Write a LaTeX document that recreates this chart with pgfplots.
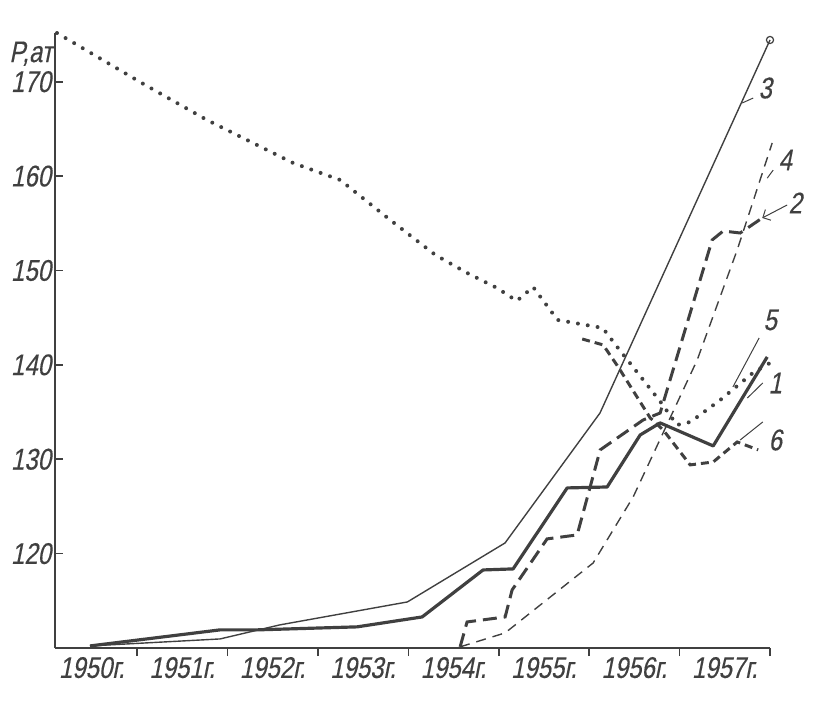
\documentclass[border=0pt]{standalone}
\usepackage{fontspec}
\setmainfont{Liberation Sans}
\newfontfamily\gost[FakeStretch=0.8,FakeSlant=0.2,FakeBold=0.3]{Liberation Sans}
\usepackage{pgfplots}
\pgfplotsset{compat=1.18}
\usetikzlibrary{arrows.meta}
\colorlet{ink}{black!75}
\begin{document}
\begin{tikzpicture}[x=1bp,y=1bp]
\begin{axis}[
  at={(0,0)}, anchor=south west,
  scale only axis, width=357.5bp, height=307.5bp,
  xmin=0.093, xmax=8, ymin=110, ymax=175.16,
  axis x line*=bottom, axis y line*=left,
  axis line style={ink, line width=0.9pt},
  clip=false,
  xtick={1,2,3,4,5,6,7,8},
  xticklabels={1950г.,1951г.,1952г.,1953г.,1954г.,1955г.,1956г.,1957г.},
  xticklabel style={xshift=-22.6bp, yshift=3bp},
  x tick style={ink, line width=0.8pt},
  xtick align=outside, major tick length=4bp,
  ytick={120,130,140,150,160,170},
  ytick align=inside,
  y tick style={ink, line width=0.8pt},
  yticklabel style={xshift=1.5bp},
  /pgf/number format/assume math mode=true,
  ticklabel style={font=\gost\fontsize{15}{15}\selectfont, text=ink},
]
% 5 dotted
\addplot[ink, line width=2pt, line cap=round, dash pattern=on 0pt off 5pt] coordinates {
(0.115,175.16)(1.033,169.97)(1.774,165.94)(2.726,161.39)(3.246,159.59)(3.80,155.35)(4.30,151.64)(4.65,149.74)(4.98,148.15)(5.20,146.77)(5.38,148.25)(5.65,144.76)(6.15,143.91)(6.31,141.90)(6.79,136.07)(6.97,133.63)(7.12,133.95)(7.45,136.28)(7.81,139.14)(8.00,140.2)};
% 3 thin solid
\addplot[ink, line width=0.7pt, mark=o, mark size=1.8pt, mark indices={7}, mark options={solid, line width=0.6pt}] coordinates {
(0.48,110.22)(1.918,110.96)(2.58,112.45)(3.99,114.88)(5.07,121.13)(6.12,134.90)(8.00,174.42)};
% 1 thick solid
\addplot[ink, line width=1.6pt, line join=round] coordinates {
(0.48,110.22)(1.918,111.92)(2.327,111.92)(3.434,112.24)(4.153,113.29)(4.827,118.27)(5.159,118.38)(5.757,126.96)(6.199,127.06)(6.564,132.57)(6.785,133.85)(7.372,131.41)(7.969,140.84)};
% 2 thick dashed
\addplot[ink, line width=1.5pt, dash pattern=on 7pt off 3.5pt] coordinates {
(4.573,110.12)(4.650,112.76)(5.071,113.29)(5.148,116.15)(5.535,121.56)(5.867,121.98)(6.122,130.99)(6.597,134.16)(6.785,134.90)(7.360,153.23)(7.482,154.18)(7.670,153.97)(7.914,155.56)};
% 4 thin dashed
\addplot[ink, line width=0.7pt, dash pattern=on 5pt off 3.5pt] coordinates {
(4.573,110.12)(5.071,111.60)(6.044,119.01)(6.487,126.01)(7.195,140.52)(7.637,152.17)(8.024,163.51)};
% 6 dashed
\addplot[ink, line width=1.5pt, dash pattern=on 4pt off 2.5pt] coordinates {
(5.923,142.74)(6.155,142.11)(6.321,139.78)(6.675,134.38)(6.819,133.10)(7.117,129.40)(7.372,129.71)(7.637,131.83)(7.869,130.99)};
% labels and leaders
\begin{scope}[ink, line width=0.5pt]
\draw (axis cs:7.814,168.27) -- (axis cs:7.692,167.74);
\draw (axis cs:8.035,160.63) -- (axis cs:7.969,159.78);
\draw[-{Straight Barb[length=3pt]}] (axis cs:8.19,156.94) -- (axis cs:7.914,155.56);
\draw (axis cs:7.88,142.85) -- (axis cs:7.59,137.66);
\draw (axis cs:7.92,138.08) -- (axis cs:7.75,136.49);
\draw (axis cs:7.92,133.95) -- (axis cs:7.67,132.04);
\end{scope}
\begin{scope}[every node/.style={font=\gost\fontsize{15}{15}\selectfont, text=ink}]
\node at (axis cs:7.947,169.33) {3};
\node at (axis cs:8.168,161.71) {4};
\node at (axis cs:8.279,157.15) {2};
\node at (axis cs:8.002,144.76) {5};
\node at (axis cs:8.058,138.08) {1};
\node at (axis cs:8.058,132.04) {6};
\node[anchor=north east, inner sep=1bp] at (rel axis cs:0,0.99) {P,ат};
\end{scope}
\end{axis}
\pgfresetboundingbox
\path[use as bounding box] (-27.5,-30) rectangle (383,324);
\end{tikzpicture}
\end{document}
